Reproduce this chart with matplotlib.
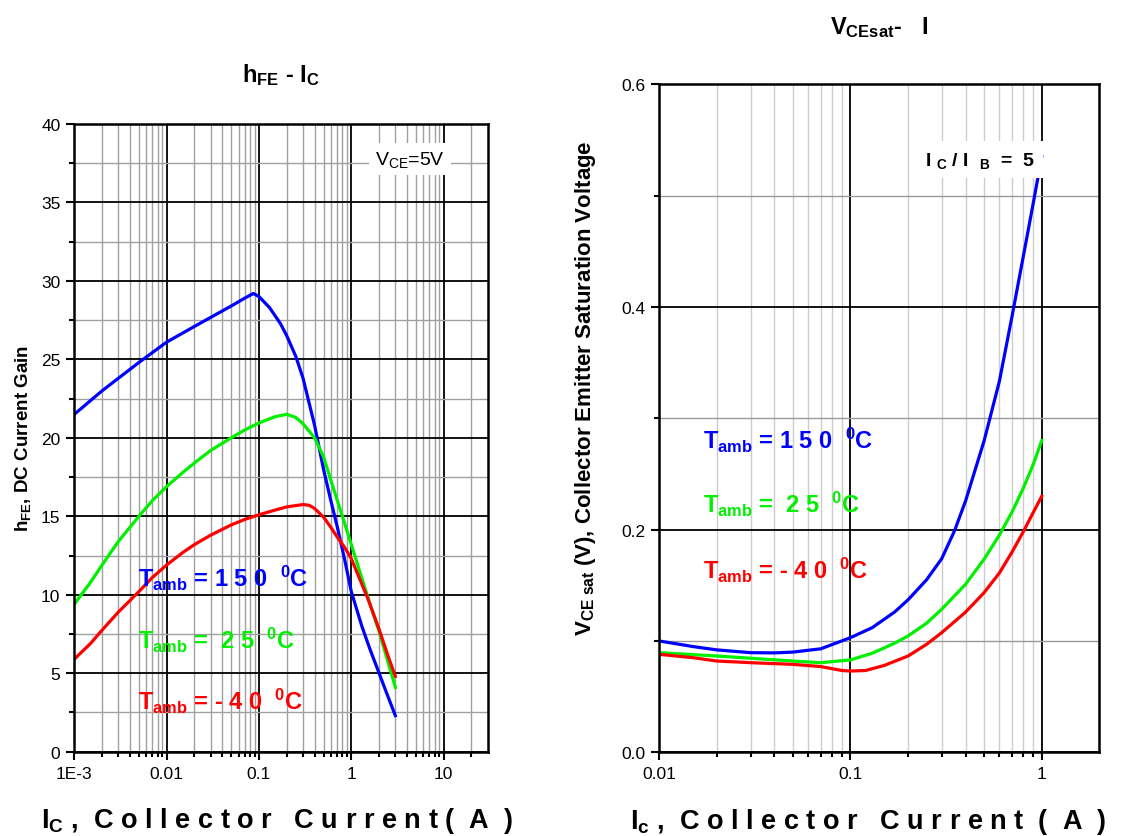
import matplotlib
matplotlib.use("Agg")
import matplotlib.pyplot as plt
from matplotlib.ticker import FixedLocator, NullFormatter

plt.rcParams['font.family'] = ['Liberation Sans', 'DejaVu Sans']
plt.rcParams['mathtext.fontset'] = 'custom'
plt.rcParams['mathtext.rm'] = 'Liberation Sans'
plt.rcParams['mathtext.bf'] = 'Liberation Sans:bold'
plt.rcParams['mathtext.it'] = 'Liberation Sans:italic'

# hFE vs Ic (left chart)
ic_150 = [0.001, 0.002, 0.005, 0.01, 0.02, 0.05, 0.07, 0.087, 0.1, 0.13, 0.17, 0.2,
          0.25, 0.3, 0.4, 0.5, 0.6, 0.7, 0.85, 1.0, 1.3, 1.6, 2.0, 2.5, 3.0]
hfe_150 = [21.5, 23.0, 24.8, 26.1, 27.1, 28.4, 28.9, 29.2, 29.0, 28.3, 27.3, 26.5,
           25.2, 23.8, 20.8, 18.0, 16.0, 14.4, 12.2, 10.2, 8.0, 6.5, 5.0, 3.5, 2.3]

ic_25 = [0.001, 0.0015, 0.002, 0.003, 0.005, 0.007, 0.01, 0.015, 0.02, 0.03, 0.05,
         0.07, 0.1, 0.15, 0.2, 0.25, 0.3, 0.4, 0.5, 0.6, 0.8, 1.0, 1.5, 2.0, 2.5, 3.0]
hfe_25 = [9.4, 10.8, 11.9, 13.4, 15.0, 16.0, 16.9, 17.8, 18.4, 19.2, 20.0,
          20.5, 20.95, 21.35, 21.5, 21.3, 20.9, 20.0, 18.8, 17.3, 15.0, 13.2, 9.9,
          7.65, 5.7, 4.1]

ic_m40 = [0.001, 0.0015, 0.002, 0.003, 0.005, 0.007, 0.01, 0.015, 0.02, 0.03, 0.05,
          0.07, 0.1, 0.15, 0.2, 0.3, 0.35, 0.4, 0.5, 0.6, 0.7, 0.85, 1.0, 1.5, 2.0,
          2.5, 3.0]
hfe_m40 = [5.9, 6.9, 7.75, 8.9, 10.2, 11.1, 11.9, 12.7, 13.2, 13.8, 14.45,
           14.8, 15.1, 15.4, 15.6, 15.75, 15.7, 15.5, 14.95, 14.3, 13.7, 13.0, 12.3,
           9.8, 7.8, 6.1, 4.8]

# VCEsat vs Ic (right chart)
ic2_150 = [0.01, 0.015, 0.02, 0.03, 0.04, 0.05, 0.07, 0.1, 0.13, 0.17, 0.2, 0.25,
           0.3, 0.35, 0.4, 0.5, 0.6, 0.7, 0.8, 0.9, 1.0]
vce_150 = [0.100, 0.095, 0.092, 0.0895, 0.0893, 0.090, 0.093, 0.103, 0.112, 0.126,
           0.137, 0.155, 0.174, 0.199, 0.226, 0.280, 0.333, 0.392, 0.445, 0.492, 0.535]

ic2_25 = [0.01, 0.02, 0.03, 0.05, 0.07, 0.1, 0.13, 0.17, 0.2, 0.25, 0.3, 0.4, 0.5,
          0.6, 0.7, 0.8, 0.9, 1.0]
vce_25 = [0.0895, 0.0865, 0.0845, 0.082, 0.0805, 0.083, 0.089, 0.098, 0.1045, 0.116,
          0.1285, 0.151, 0.1736, 0.195, 0.216, 0.237, 0.258, 0.280]

ic2_m40 = [0.01, 0.015, 0.02, 0.03, 0.05, 0.07, 0.09, 0.1, 0.12, 0.15, 0.2, 0.25,
           0.3, 0.4, 0.5, 0.6, 0.7, 0.8, 0.9, 1.0]
vce_m40 = [0.088, 0.085, 0.082, 0.0805, 0.079, 0.077, 0.0735, 0.073, 0.0735, 0.078,
           0.0865, 0.097, 0.1075, 0.126, 0.1435, 0.161, 0.18, 0.198, 0.215, 0.23]

left_xticks = [0.001, 0.01, 0.1, 1, 10]
left_xlabels = ['1E-3', '0.01', '0.1', '1', '10']
right_xticks = [0.01, 0.1, 1]
right_xlabels = ['0.01', '0.1', '1']

BLUE, GREEN, RED = '#0000ff', '#00f000', '#ff0000'

LBL_150 = r'T$_{\mathbf{amb}}$ = 1 5 0  $^{\mathbf{0}}$C'
LBL_25 = r'T$_{\mathbf{amb}}$ =  2 5  $^{\mathbf{0}}$C'
LBL_M40 = r'T$_{\mathbf{amb}}$ = - 4 0  $^{\mathbf{0}}$C'


def minor_subs(lo, hi):
    vals = []
    d = lo
    while d < hi:
        for k in range(2, 10):
            if d * k < hi:
                vals.append(d * k)
        d *= 10
    return vals


def style_axes(ax, minor_v_color, minor_h_color):
    ax.set_axisbelow(True)
    ax.grid(which='major', color='black', lw=1.3)
    ax.grid(which='minor', axis='x', color=minor_v_color, lw=1.0)
    ax.grid(which='minor', axis='y', color=minor_h_color, lw=1.0)
    for s in ax.spines.values():
        s.set_linewidth(1.8)
    ax.tick_params(which='both', direction='out', top=False, right=False,
                   width=1.5, labelsize=12.5, pad=4)
    ax.tick_params(which='major', length=6)
    ax.tick_params(which='minor', length=3.5)
    ax.xaxis.set_minor_formatter(NullFormatter())


fig = plt.figure(figsize=(11.4, 8.37), dpi=100)

# ---- left: hFE - Ic
ax1 = fig.add_axes([0.0652, 0.1007, 0.3626, 0.75])
ax1.set_xscale('log')
ax1.set_xlim(0.001, 30)
ax1.set_ylim(0, 40)
ax1.xaxis.set_major_locator(FixedLocator(left_xticks))
ax1.set_xticklabels(left_xlabels)
ax1.xaxis.set_minor_locator(FixedLocator(minor_subs(0.001, 30)))
ax1.set_yticks(range(0, 41, 5))
ax1.yaxis.set_minor_locator(FixedLocator([2.5 + 5 * i for i in range(8)]))
style_axes(ax1, '#a0a0a0', '#a0a0a0')

ax1.plot(ic_150, hfe_150, color=BLUE, lw=2.3)
ax1.plot(ic_25, hfe_25, color=GREEN, lw=2.3)
ax1.plot(ic_m40, hfe_m40, color=RED, lw=2.3)

ax1.set_title(r'h$_{\mathbf{FE}}$ - I$_{\mathbf{C}}$', fontsize=17, fontweight='bold', pad=31)
ax1.set_ylabel(r'h$_{\mathbf{FE}}$, DC Current Gain', fontsize=13.5, fontweight='bold', labelpad=6)
ax1.set_xlabel(r'I$_{\mathbf{C}}$ ,  C o l l e c t o r   C u r r e n t (  A  )',
               fontsize=19.5, fontweight='bold')
ax1.xaxis.set_label_coords(0.49, -0.085)

ax1.text(0.812, 0.944, r'V$_{\mathrm{CE}}$=5V', transform=ax1.transAxes, fontsize=14,
         ha='center', va='center', bbox=dict(facecolor='white', edgecolor='none', pad=4))

ax1.text(0.155, 0.278, LBL_150, transform=ax1.transAxes,
         color=BLUE, fontsize=17, fontweight='bold', va='center')
ax1.text(0.155, 0.179, LBL_25, transform=ax1.transAxes,
         color=GREEN, fontsize=17, fontweight='bold', va='center')
ax1.text(0.155, 0.081, LBL_M40, transform=ax1.transAxes,
         color=RED, fontsize=17, fontweight='bold', va='center')

# ---- right: VCEsat - Ic
ax2 = fig.add_axes([0.5783, 0.1000, 0.386, 0.798])
ax2.set_xscale('log')
ax2.set_xlim(0.01, 2)
ax2.set_ylim(0, 0.6)
ax2.xaxis.set_major_locator(FixedLocator(right_xticks))
ax2.set_xticklabels(right_xlabels)
ax2.xaxis.set_minor_locator(FixedLocator(minor_subs(0.01, 2)))
ax2.set_yticks([0.0, 0.2, 0.4, 0.6])
ax2.set_yticklabels(['0.0', '0.2', '0.4', '0.6'])
ax2.yaxis.set_minor_locator(FixedLocator([0.1, 0.3, 0.5]))
style_axes(ax2, '#cccccc', '#999999')

ax2.plot(ic2_150, vce_150, color=BLUE, lw=2.3)
ax2.plot(ic2_25, vce_25, color=GREEN, lw=2.3)
ax2.plot(ic2_m40, vce_m40, color=RED, lw=2.3)

ax2.set_title(r'V$_{\mathbf{CEsat}}$-   I', fontsize=17, fontweight='bold', pad=37)
ax2.set_ylabel(r'V$_{\mathbf{CE\ sat}}$ (V), Collector Emitter Saturation Voltage',
               fontsize=16, fontweight='bold')
ax2.yaxis.set_label_coords(-0.14, 0.547)
ax2.set_xlabel(r'I$_{\mathbf{c}}$ ,  C o l l e c t o r   C u r r e n t  (  A  )',
               fontsize=19.5, fontweight='bold')
ax2.xaxis.set_label_coords(0.475, -0.08)

ax2.text(0.729, 0.887, r'I $_{\mathbf{C}}$ / I  $_{\mathbf{B}}$  =  5', transform=ax2.transAxes,
         fontsize=14, fontweight='bold', ha='center', va='center', zorder=5,
         bbox=dict(facecolor='white', edgecolor='none', pad=6))

ax2.text(0.1, 0.469, LBL_150, transform=ax2.transAxes,
         color=BLUE, fontsize=17, fontweight='bold', va='center')
ax2.text(0.1, 0.372, LBL_25, transform=ax2.transAxes,
         color=GREEN, fontsize=17, fontweight='bold', va='center')
ax2.text(0.1, 0.274, LBL_M40, transform=ax2.transAxes,
         color=RED, fontsize=17, fontweight='bold', va='center')

fig.savefig('out.png', dpi=100)
